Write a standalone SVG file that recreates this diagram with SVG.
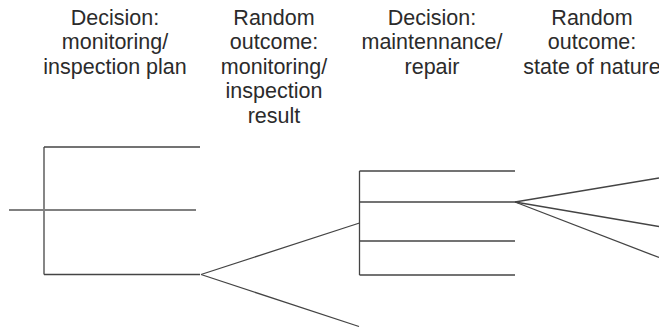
<svg xmlns="http://www.w3.org/2000/svg" width="659" height="329" viewBox="0 0 659 329">
  <style>
    .lbl { font-family: "Liberation Sans", Arial, sans-serif; font-size: 21.5px; fill: #2b2b2b; text-anchor: middle; }
    .br { stroke: #444444; stroke-width: 1.3; fill: none; }
    .br2 { stroke: #808080; stroke-width: 2; fill: none; }
  </style>
  <rect width="659" height="329" fill="#ffffff"/>

  <!-- column headings -->
  <g id="head-plan">
    <text class="lbl" x="115" y="25">Decision:</text>
    <text class="lbl" x="115" y="49.4">monitoring/</text>
    <text class="lbl" x="115" y="73.8">inspection plan</text>
  </g>
  <g id="head-result">
    <text class="lbl" x="274" y="25">Random</text>
    <text class="lbl" x="274" y="49.4">outcome:</text>
    <text class="lbl" x="274" y="73.8">monitoring/</text>
    <text class="lbl" x="274" y="98.2">inspection</text>
    <text class="lbl" x="274" y="122.6">result</text>
  </g>
  <g id="head-repair">
    <text class="lbl" x="432" y="25">Decision:</text>
    <text class="lbl" x="432" y="49.4">maintennance/</text>
    <text class="lbl" x="432" y="73.8">repair</text>
  </g>
  <g id="head-nature">
    <text class="lbl" x="592" y="25">Random</text>
    <text class="lbl" x="592" y="49.4">outcome:</text>
    <text class="lbl" x="592" y="73.8">state of nature</text>
  </g>

  <!-- decision node: inspection plan -->
  <g id="node-plan">
    <line class="br" x1="44" y1="147" x2="44" y2="274.5"/>
    <line class="br" x1="44" y1="147" x2="200" y2="147"/>
    <line class="br2" x1="9" y1="210" x2="196" y2="210"/>
    <line class="br" x1="44" y1="274.5" x2="200" y2="274.5"/>
  </g>

  <!-- decision node: maintenance/repair -->
  <g id="node-repair">
    <line class="br" x1="359.5" y1="171" x2="359.5" y2="275"/>
    <line class="br" x1="359.5" y1="171" x2="515" y2="171"/>
    <line class="br" x1="359.5" y1="202" x2="515" y2="202"/>
    <line class="br" x1="359.5" y1="241" x2="515" y2="241"/>
    <line class="br" x1="359.5" y1="275" x2="515" y2="275"/>
  </g>

  <!-- chance branches -->
  <g id="connectors">
    <line class="br" x1="201" y1="274.5" x2="359.5" y2="223"/>
    <line class="br" x1="201" y1="274.5" x2="359" y2="326.5"/>
    <line class="br" x1="515" y1="202" x2="659" y2="178"/>
    <line class="br" x1="515" y1="202" x2="659" y2="226.5"/>
    <line class="br" x1="515" y1="202" x2="659" y2="257.5"/>
  </g>
</svg>
